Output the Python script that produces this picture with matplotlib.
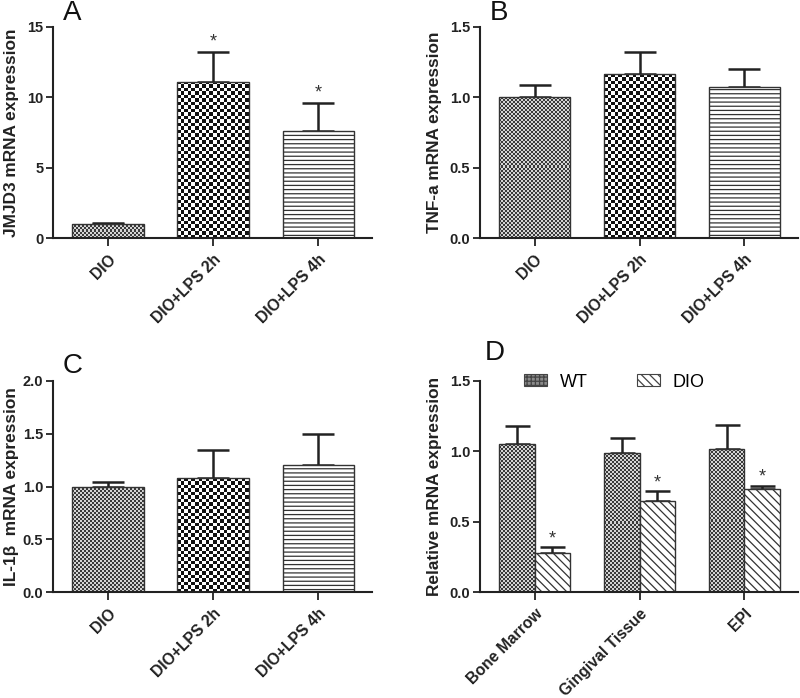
import numpy as np
import matplotlib
matplotlib.use('Agg')
import matplotlib.pyplot as plt
from matplotlib.colors import ListedColormap
from matplotlib.patches import Patch

plt.rcParams['font.family'] = ['Liberation Sans', 'DejaVu Sans']
plt.rcParams['hatch.linewidth'] = 0.9

# ---------------- data ----------------
groups_abc = ['DIO', 'DIO+LPS 2h', 'DIO+LPS 4h']
jmjd3_mean = [1.0, 11.1, 7.6]
jmjd3_err = [0.1, 2.15, 2.0]
jmjd3_sig = [False, True, True]

tnf_mean = [1.0, 1.165, 1.07]
tnf_err = [0.09, 0.16, 0.13]

il1b_mean = [1.0, 1.08, 1.2]
il1b_err = [0.04, 0.265, 0.30]

tissues = ['Bone Marrow', 'Gingival Tissue', 'EPI']
wt_mean = [1.05, 0.985, 1.015]
wt_err = [0.13, 0.11, 0.17]
dio_mean = [0.28, 0.645, 0.73]
dio_err = [0.04, 0.07, 0.025]
dio_sig = [True, True, True]

panel_letters = ['A', 'B', 'C', 'D']
ylabels = ['JMJD3 mRNA expression', 'TNF-a mRNA expression',
           'IL-1β  mRNA expression', 'Relative mRNA expression']
yticks_list = [[0, 5, 10, 15], [0.0, 0.5, 1.0, 1.5],
               [0.0, 0.5, 1.0, 1.5, 2.0], [0.0, 0.5, 1.0, 1.5]]

# ---------------- figure ----------------
W, H = 800, 698
fig = plt.figure(figsize=(W / 100, H / 100), dpi=100)


def ax_at(x0, x1, ytop, ybot):
    return fig.add_axes([x0 / W, 1 - ybot / H, (x1 - x0) / W, (ybot - ytop) / H])


axA = ax_at(53, 372, 27, 238)
axB = ax_at(480, 798, 27, 238)
axC = ax_at(53, 372, 381, 592)
axD = ax_at(480, 798, 381, 592)
axes = [axA, axB, axC, axD]
letter_pos = [(63, 20), (490, 20), (63, 373), (485, 360)]

FINE = ('#3a3a3a', '#d4d4d4', 2.0)
COARSE = ('#111111', '#ffffff', 3.5)
EDGE = '#333333'


def checker_fill(ax, bar, style):
    c1, c2, cell = style
    x0, y0 = bar.get_x(), bar.get_y()
    x1, y1 = x0 + bar.get_width(), y0 + bar.get_height()
    p0 = ax.transData.transform((x0, y0))
    p1 = ax.transData.transform((x1, y1))
    nx = max(1, int(round(abs(p1[0] - p0[0]) / cell)))
    ny = max(1, int(round(abs(p1[1] - p0[1]) / cell)))
    arr = np.add.outer(np.arange(ny), np.arange(nx)) % 2
    im = ax.imshow(arr, extent=(x0, x1, y0, y1), origin='lower',
                   cmap=ListedColormap([c1, c2]), interpolation='nearest',
                   aspect='auto', zorder=1.5)
    im.set_clip_path(bar)


def style_axes(ax, yticks, ylabel, letter, lpos, ylim, xticks, xlabels, lab_x):
    ax.set_xlim(-0.52, 2.51)
    ax.set_ylim(*ylim)
    for s in ['top', 'right']:
        ax.spines[s].set_visible(False)
    for s in ['left', 'bottom']:
        ax.spines[s].set_linewidth(1.5)
        ax.spines[s].set_color('#222222')
    ax.set_yticks(yticks)
    if isinstance(yticks[-1], float):
        ax.set_yticklabels([f'{v:.1f}' for v in yticks])
    ax.set_xticks(xticks)
    ax.set_xticklabels(xlabels, rotation=45, ha='right', rotation_mode='anchor',
                       fontsize=11.3, fontweight='bold', color='#222222')
    ax.tick_params(axis='y', direction='out', length=5, width=1.3,
                   labelsize=10.5, colors='#222222', pad=2)
    ax.tick_params(axis='x', direction='out', length=6, width=1.3, pad=4,
                   colors='#222222')
    for t in ax.get_yticklabels():
        t.set_fontweight('bold')
    ax.set_ylabel(ylabel, fontsize=12.4, fontweight='bold', color='#222222')
    ax.yaxis.set_label_coords(lab_x, 0.5)
    fig.text(lpos[0] / W, 1 - lpos[1] / H, letter, fontsize=20,
             ha='left', va='baseline', color='#111111')


def three_bar_panel(ax, means, errs, sig, idx, ylim, star_off):
    x = np.arange(len(groups_abc))
    ax.set_xlim(-0.52, 2.51)
    ax.set_ylim(*ylim)
    bars = ax.bar(x, means, width=0.68, facecolor='none', edgecolor=EDGE,
                  linewidth=1.0, zorder=2)
    checker_fill(ax, bars[0], FINE)
    checker_fill(ax, bars[1], COARSE)
    bars[2].set_hatch('----')
    bars[2].set_facecolor('white')
    ax.errorbar(x, means, yerr=[np.zeros(len(x)), errs], fmt='none',
                ecolor='#222222', elinewidth=1.8, capsize=11.5, capthick=1.8,
                zorder=1)
    for xi, m, e, s in zip(x, means, errs, sig):
        if s:
            ax.annotate('*', (xi, m + e), xytext=(0, star_off),
                        textcoords='offset points', ha='center', va='bottom',
                        fontsize=13, color='#333333')
    style_axes(ax, yticks_list[idx], ylabels[idx], panel_letters[idx],
               letter_pos[idx], ylim, x, groups_abc,
               -0.107 if idx in (0, 2) else -0.12)


three_bar_panel(axA, jmjd3_mean, jmjd3_err, jmjd3_sig, 0, (0, 15), 1)
three_bar_panel(axB, tnf_mean, tnf_err, [False] * 3, 1, (0, 1.5), 1)
three_bar_panel(axC, il1b_mean, il1b_err, [False] * 3, 2, (0, 2.0), 1)

# Panel D
xd = np.arange(len(tissues))
bw = 0.34
axD.set_xlim(-0.52, 2.51)
axD.set_ylim(0, 1.5)
wt_bars = axD.bar(xd - bw / 2, wt_mean, width=bw, facecolor='none',
                  edgecolor=EDGE, linewidth=1.0, zorder=2)
for b in wt_bars:
    checker_fill(axD, b, FINE)
dio_bars = axD.bar(xd + bw / 2, dio_mean, width=bw, facecolor='white',
                   edgecolor=EDGE, linewidth=1.0, hatch='\\\\\\\\', zorder=2)
axD.errorbar(xd - bw / 2, wt_mean, yerr=[np.zeros(3), wt_err], fmt='none',
             ecolor='#222222', elinewidth=1.8, capsize=9, capthick=1.8, zorder=1)
axD.errorbar(xd + bw / 2, dio_mean, yerr=[np.zeros(3), dio_err], fmt='none',
             ecolor='#222222', elinewidth=1.8, capsize=9, capthick=1.8, zorder=1)
for xi, m, e, s in zip(xd + bw / 2, dio_mean, dio_err, dio_sig):
    if s:
        axD.annotate('*', (xi, m + e), xytext=(0, 0), textcoords='offset points',
                     ha='center', va='bottom', fontsize=13, color='#333333')
style_axes(axD, yticks_list[3], ylabels[3], panel_letters[3], letter_pos[3],
           (0, 1.5), xd, tissues, -0.12)

handles = [Patch(facecolor='#8a8a8a', edgecolor='#444444', hatch='++++', linewidth=0.8),
           Patch(facecolor='white', edgecolor='#444444', hatch='\\\\\\\\', linewidth=0.8)]
axD.legend(handles, ['WT', 'DIO'], loc='center left',
           bbox_to_anchor=(0.138, 0.995), ncol=2, frameon=False, fontsize=13,
           handlelength=1.3, handleheight=0.6, handletextpad=0.7,
           columnspacing=2.7, borderpad=0, borderaxespad=0)

fig.savefig('out.png', dpi=100)
